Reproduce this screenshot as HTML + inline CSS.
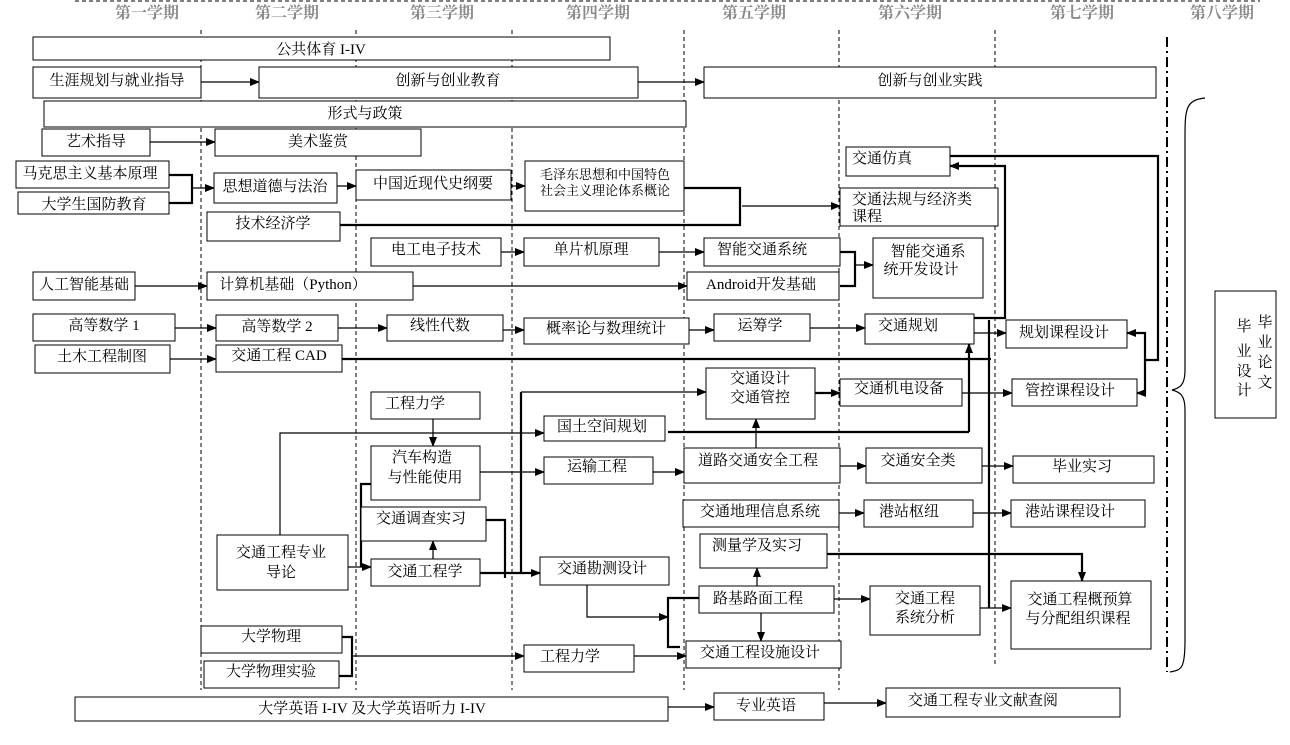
<!DOCTYPE html>
<html><head><meta charset="utf-8"><style>
html,body{margin:0;padding:0;background:#fff}
svg{display:block}
text{font-family:"Liberation Serif","Noto Serif CJK SC",serif;font-size:15px;fill:#000}
.h{fill:#8a8a8a;font-size:16px;font-weight:bold}
rect{fill:#fff;stroke:#000;stroke-width:1}
.l{stroke:#000;stroke-width:1.2;fill:none}
.t{stroke:#000;stroke-width:2.2;fill:none}
.d{stroke:#000;stroke-width:1;stroke-dasharray:4 3;fill:none}
</style></head><body>
<svg width="1290" height="745" viewBox="0 0 1290 745" xmlns="http://www.w3.org/2000/svg">
<defs><marker id="a" markerWidth="10" markerHeight="8" refX="9" refY="4" orient="auto" markerUnits="userSpaceOnUse"><path d="M0,0 L10,4 L0,8z" fill="#000"/></marker></defs>
<line class="d" x1="75" y1="1" x2="1260" y2="1"/>
<g class="d">
<line x1="201" y1="30" x2="201" y2="690"/><line x1="356" y1="30" x2="356" y2="690"/><line x1="512" y1="30" x2="512" y2="690"/><line x1="684" y1="30" x2="684" y2="690"/><line x1="839" y1="30" x2="839" y2="690"/><line x1="995" y1="30" x2="995" y2="665"/>
</g>
<line x1="1167" y1="37" x2="1167" y2="672" stroke="#000" stroke-width="2" stroke-dasharray="10 4 2 4"/>
<g text-anchor="middle"><text class="h" x="147" y="18">第一学期</text><text class="h" x="287" y="18">第二学期</text><text class="h" x="442" y="18">第三学期</text><text class="h" x="598" y="18">第四学期</text><text class="h" x="754" y="18">第五学期</text><text class="h" x="910" y="18">第六学期</text><text class="h" x="1082" y="18">第七学期</text><text class="h" x="1222" y="18">第八学期</text></g>
<path d="M1205,98 C1185,100 1185,110 1185,140 L1185,370 C1185,385 1180,388 1172,390 C1180,392 1185,395 1185,410 L1185,640 C1185,668 1182,670 1170,672" class="l"/>

<!-- connectors -->
<g class="l" marker-end="url(#a)">
<line x1="201" y1="82" x2="259" y2="82"/><line x1="638" y1="82" x2="704" y2="82"/>
<line x1="150" y1="142" x2="215" y2="142"/>
<line x1="192" y1="188" x2="214" y2="188"/>
<line x1="337" y1="186" x2="356" y2="186"/><line x1="511" y1="186" x2="525" y2="186"/>
<line x1="742" y1="206" x2="840" y2="206"/>
<line x1="501" y1="252" x2="524" y2="252"/><line x1="659" y1="252" x2="704" y2="252"/>
<line x1="855" y1="265" x2="873" y2="265"/>
<line x1="135" y1="286" x2="207" y2="286"/><line x1="413" y1="286" x2="687" y2="286"/>
<line x1="175" y1="328" x2="216" y2="328"/><line x1="338" y1="328" x2="387" y2="328"/><line x1="503" y1="330" x2="524" y2="330"/><line x1="689" y1="330" x2="714" y2="330"/><line x1="810" y1="328" x2="865" y2="328"/>
<line x1="170" y1="359" x2="216" y2="359"/>
<line x1="974" y1="333" x2="1006" y2="333"/>
<line x1="962" y1="393" x2="1012" y2="393"/>
<line x1="433" y1="419" x2="433" y2="446"/><line x1="433" y1="559" x2="433" y2="541"/>
<line x1="480" y1="472" x2="544" y2="472"/><line x1="653" y1="472" x2="684" y2="472"/>
<line x1="756" y1="448" x2="756" y2="419"/>
<line x1="840" y1="466" x2="866" y2="466"/><line x1="982" y1="466" x2="1013" y2="466"/>
<line x1="839" y1="513" x2="864" y2="513"/><line x1="973" y1="513" x2="1011" y2="513"/>
<line x1="757" y1="586" x2="757" y2="568"/><line x1="761" y1="613" x2="761" y2="641"/>
<line x1="834" y1="599" x2="870" y2="599"/><line x1="980" y1="608" x2="1011" y2="608"/>
<line x1="634" y1="656" x2="686" y2="656"/>
<line x1="352" y1="656" x2="524" y2="656"/>
<line x1="668" y1="707" x2="714" y2="707"/><line x1="824" y1="703" x2="886" y2="703"/>
<line x1="521" y1="392" x2="706" y2="392"/>
<polyline points="280,535 280,433 544,433"/>
<polyline points="348,567 371,567"/>
<polyline points="587,585 587,617 668,617"/>
</g>
<g class="t" marker-end="url(#a)">
<polyline points="974,318 1005,318 1005,166 950,166"/>
<line x1="815" y1="393" x2="840" y2="393"/>
<polyline points="1145,360 1145,333 1127,333"/><polyline points="1145,360 1145,393 1137,393"/>
<polyline points="969,432 969,344"/>
<polyline points="480,573 540,573"/>
<polyline points="827,554 1082,554 1082,581"/>
</g>
<g class="t">
<polyline points="169,175 192,175 192,203 169,203"/>
<polyline points="684,188 740,188 740,225 340,225"/>
<polyline points="840,252 855,252 855,286 840,286"/>
<line x1="342" y1="359" x2="991" y2="359"/>
<line x1="989" y1="320" x2="989" y2="608"/>
<polyline points="950,156 1158,156 1158,360 1145,360"/>
<line x1="668" y1="432" x2="969" y2="432"/>
<polyline points="486,520 505,520 505,578"/>
<polyline points="521,573 521,392"/>
<polyline points="361,567 361,484 371,484"/>
<polyline points="699,598 668,598 668,647 680,647"/>
<polyline points="342,637 352,637 352,676 339,676"/>
</g>

<!-- boxes -->
<g>
<rect x="33" y="37" width="577" height="23"/><rect x="33" y="67" width="168" height="31"/><rect x="259" y="67" width="379" height="31"/><rect x="704" y="67" width="452" height="31"/>
<rect x="44" y="101" width="642" height="26"/><rect x="42" y="129" width="108" height="27"/><rect x="215" y="129" width="206" height="27"/>
<rect x="16" y="161" width="153" height="27"/><rect x="18" y="192" width="151" height="22"/><rect x="214" y="173" width="123" height="30"/><rect x="356" y="170" width="155" height="30"/><rect x="525" y="161" width="159" height="50"/>
<rect x="207" y="212" width="133" height="29"/><rect x="371" y="238" width="130" height="28"/><rect x="524" y="238" width="135" height="28"/>
<rect x="33" y="272" width="102" height="28"/><rect x="207" y="272" width="206" height="28"/>
<rect x="33" y="314" width="142" height="27"/><rect x="216" y="315" width="122" height="26"/><rect x="387" y="315" width="116" height="26"/><rect x="524" y="318" width="165" height="26"/>
<rect x="35" y="345" width="135" height="28"/><rect x="216" y="345" width="126" height="27"/>
<rect x="846" y="147" width="104" height="29"/><rect x="840" y="188" width="158" height="38"/><rect x="704" y="238" width="136" height="28"/><rect x="687" y="272" width="152" height="28"/><rect x="873" y="238" width="110" height="60"/>
<rect x="714" y="314" width="96" height="27"/><rect x="865" y="314" width="109" height="30"/><rect x="1006" y="320" width="121" height="28"/>
<rect x="706" y="368" width="109" height="51"/><rect x="840" y="379" width="122" height="27"/><rect x="1012" y="379" width="125" height="27"/>
<rect x="1215" y="291" width="61" height="127"/>
<rect x="371" y="392" width="109" height="27"/><rect x="371" y="446" width="109" height="54"/><rect x="361" y="507" width="125" height="34"/><rect x="371" y="559" width="109" height="27"/>
<rect x="217" y="535" width="131" height="55"/>
<rect x="544" y="416" width="121" height="25"/><rect x="544" y="457" width="109" height="27"/><rect x="540" y="557" width="129" height="28"/>
<rect x="201" y="626" width="141" height="27"/><rect x="204" y="661" width="135" height="27"/><rect x="524" y="645" width="110" height="27"/>
<rect x="684" y="448" width="156" height="35"/><rect x="683" y="500" width="156" height="27"/><rect x="700" y="534" width="127" height="34"/><rect x="699" y="586" width="135" height="27"/><rect x="686" y="641" width="155" height="27"/>
<rect x="866" y="448" width="116" height="35"/><rect x="864" y="500" width="109" height="27"/><rect x="870" y="586" width="110" height="49"/>
<rect x="1013" y="456" width="141" height="27"/><rect x="1011" y="500" width="134" height="27"/><rect x="1011" y="581" width="140" height="68"/>
<rect x="75" y="697" width="593" height="24"/><rect x="714" y="693" width="110" height="27"/><rect x="886" y="688" width="234" height="29"/>
</g>

<g text-anchor="middle">
<text x="321" y="54">公共体育 I-IV</text><text x="117" y="85">生涯规划与就业指导</text><text x="448" y="85">创新与创业教育</text><text x="930" y="85">创新与创业实践</text>
<text x="365" y="118">形式与政策</text><text x="96" y="146">艺术指导</text><text x="318" y="146">美术鉴赏</text>
<text x="90" y="178">马克思主义基本原理</text><text x="94" y="209">大学生国防教育</text><text x="275" y="191">思想道德与法治</text><text x="433" y="188">中国近现代史纲要</text>
<text x="605" y="179" style="font-size:13px">毛泽东思想和中国特色</text><text x="605" y="195" style="font-size:13px">社会主义理论体系概论</text>
<text x="273" y="228">技术经济学</text><text x="436" y="254">电工电子技术</text><text x="591" y="254">单片机原理</text>
<text x="84" y="289">人工智能基础</text><text x="293" y="289">计算机基础（Python）</text>
<text x="104" y="330">高等数学 1</text><text x="277" y="331">高等数学 2</text><text x="440" y="330">线性代数</text><text x="606" y="333">概率论与数理统计</text>
<text x="102" y="361">土木工程制图</text><text x="279" y="360">交通工程 CAD</text>
<text x="882" y="163">交通仿真</text><text x="852" y="204" text-anchor="start">交通法规与经济类</text><text x="852" y="221" text-anchor="start">课程</text>
<text x="762" y="254">智能交通系统</text><text x="761" y="289">Android开发基础</text><text x="928" y="256">智能交通系</text><text x="921" y="274">统开发设计</text>
<text x="760" y="330">运筹学</text><text x="908" y="330">交通规划</text><text x="1064" y="337">规划课程设计</text>
<text x="760" y="383">交通设计</text><text x="760" y="402">交通管控</text><text x="899" y="393">交通机电设备</text><text x="1070" y="395">管控课程设计</text>
<text x="1265" y="327">毕</text><text x="1265" y="347">业</text><text x="1265" y="367">论</text><text x="1265" y="387">文</text>
<text x="1244" y="331">毕</text><text x="1244" y="356">业</text><text x="1244" y="376">设</text><text x="1244" y="395">计</text>
<text x="415" y="408">工程力学</text><text x="422" y="462">汽车构造</text><text x="425" y="482">与性能使用</text><text x="421" y="523">交通调查实习</text><text x="425" y="576">交通工程学</text>
<text x="281" y="557">交通工程专业</text><text x="281" y="577">导论</text>
<text x="602" y="431">国土空间规划</text><text x="597" y="471">运输工程</text><text x="602" y="573">交通勘测设计</text>
<text x="271" y="641">大学物理</text><text x="271" y="676">大学物理实验</text><text x="570" y="661">工程力学</text>
<text x="758" y="465">道路交通安全工程</text><text x="760" y="516">交通地理信息系统</text><text x="757" y="550">测量学及实习</text><text x="758" y="603">路基路面工程</text><text x="760" y="657">交通工程设施设计</text>
<text x="918" y="465">交通安全类</text><text x="909" y="516">港站枢纽</text><text x="925" y="603">交通工程</text><text x="925" y="622">系统分析</text>
<text x="1082" y="471">毕业实习</text><text x="1070" y="516">港站课程设计</text><text x="1080" y="604">交通工程概预算</text><text x="1078" y="623">与分配组织课程</text>
<text x="372" y="713">大学英语 I-IV 及大学英语听力 I-IV</text><text x="766" y="710">专业英语</text><text x="983" y="705">交通工程专业文献查阅</text>
</g>
</svg>
</body></html>
